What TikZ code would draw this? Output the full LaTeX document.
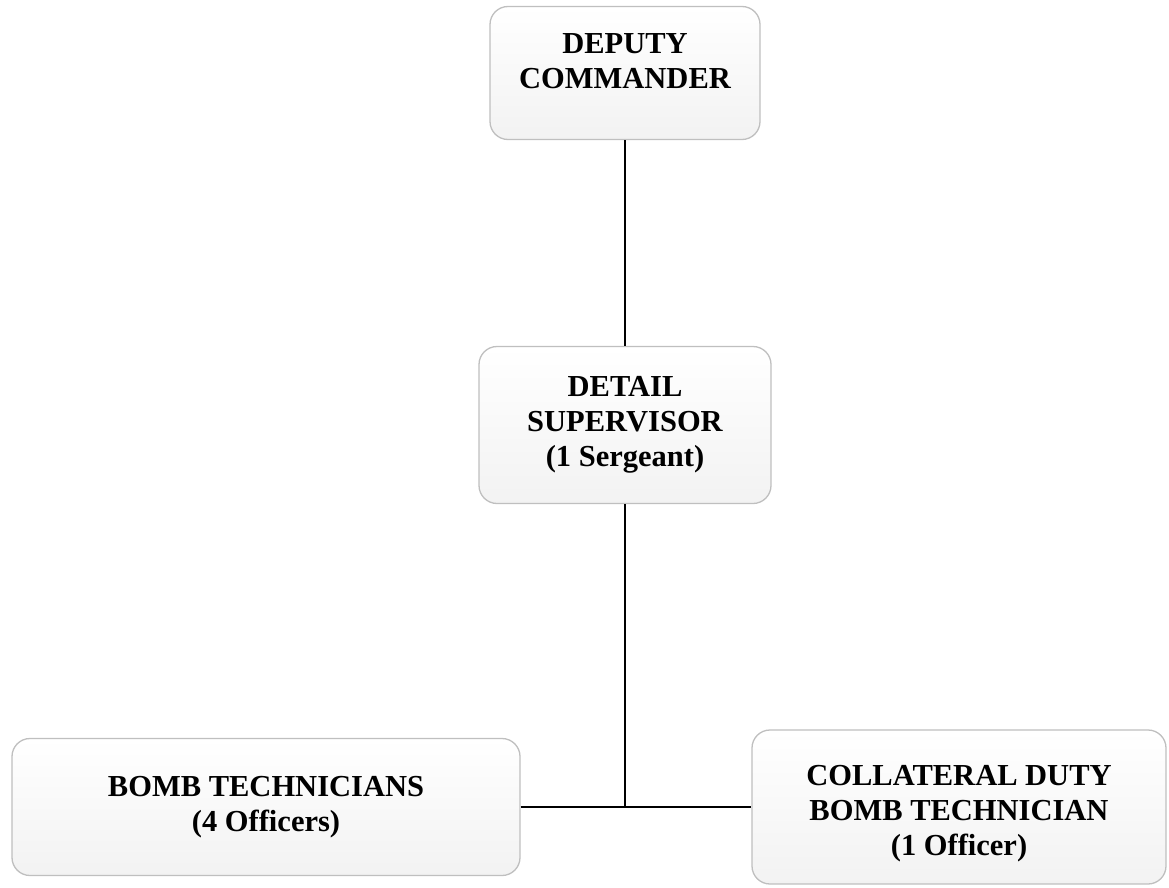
\documentclass[tikz,border=0pt]{standalone}
\usepackage{fontspec}
\setmainfont{Liberation Serif}
\usetikzlibrary{calc}

\tikzset{
  unitbox/.style={draw=gray!50, line width=1.3pt, rounded corners=18pt,
    top color=white, bottom color=gray!10, align=center,
    font=\fontsize{30.5}{35}\selectfont\bfseries, inner sep=0pt},
  link/.style={line width=1.6pt, black}
}

\begin{document}
\begin{tikzpicture}[x=1pt,y=-1pt]
\useasboundingbox (0,0) rectangle (1169,888);
%deputy commander
\node[unitbox, minimum width=270pt, minimum height=133pt] (dc) at (625,73)
  {DEPUTY\\COMMANDER\rule[-24pt]{0pt}{0pt}};
%detail supervisor
\node[unitbox, minimum width=292pt, minimum height=157pt] (ds) at (625,425)
  {DETAIL\\SUPERVISOR\\(1 Sergeant)};
%bomb technicians
\node[unitbox, minimum width=508pt, minimum height=137pt] (bt) at (266,807)
  {BOMB TECHNICIANS\\(4 Officers)};
%collateral duty
\node[unitbox, minimum width=414pt, minimum height=154pt] (cd) at (959,807)
  {\rule{0pt}{33pt}COLLATERAL DUTY\\BOMB TECHNICIAN\\(1 Officer)};
%links
\coordinate (j) at (ds.south |- bt.east);
\draw[link] (dc) -- (ds);
\draw[link] (ds) -- (j);
\draw[link] (bt) -- (cd);
\end{tikzpicture}
\end{document}
